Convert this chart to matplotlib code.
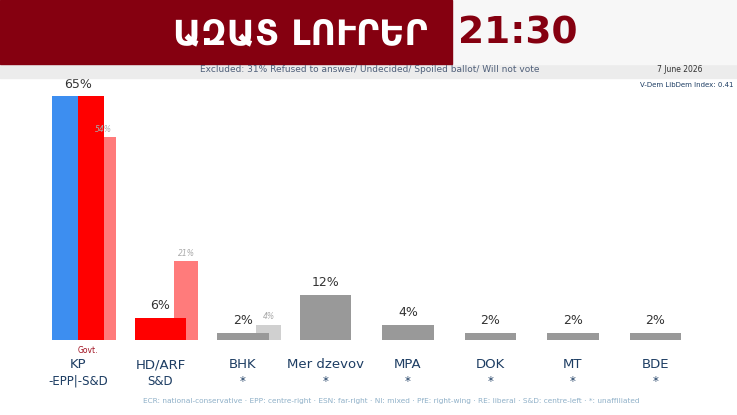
import matplotlib.pyplot as plt
from matplotlib.patches import Rectangle

parties = ["KP", "HD/ARF", "BHK", "Mer dzevov", "MPA", "DOK", "MT", "BDE"]
sublabels = ["-EPP|-S&D", "S&D", "*", "*", "*", "*", "*", "*"]
values = [65, 6, 2, 12, 4, 2, 2, 2]
previous = [54, 21, 4, None, None, None, None, None]
bar_colors = ["#ff0000", "#ff0000", "#999999", "#999999", "#999999", "#999999", "#999999", "#999999"]
prev_colors = ["#ff7b7b", "#ff7b7b", "#d0d0d0", None, None, None, None, None]

NAVY = "#1d3d63"
NARROW = ["Liberation Sans Narrow", "DejaVu Sans"]

fig = plt.figure(figsize=(7.37, 4.15), dpi=100)
ax = fig.add_axes([0, 0, 1, 1])
ax.set_xlim(-78 / 82.5, (737 - 78) / 82.5)
ax.set_ylim(-20, 340 / 3.75)
ax.axis("off")

w = 0.63
for i, (v, pv) in enumerate(zip(values, previous)):
    if pv is not None:
        ax.bar(i + 0.31, pv, width=0.3, color=prev_colors[i], zorder=1)
        ax.text(i + 0.31, pv + 1, f"{pv}%", ha="center", va="bottom", fontsize=5.5,
                color="#aaaaaa", style="italic", family=NARROW)
    if i == 0:
        ax.bar(i - w / 4, v, width=w / 2, color="#3d8ef0", zorder=2)
        ax.bar(i + w / 4, v, width=w / 2, color=bar_colors[i], zorder=2)
    else:
        ax.bar(i, v, width=w, color=bar_colors[i], zorder=2)
    ax.text(i, v + 1.5, f"{v}%", ha="center", va="bottom", fontsize=9,
            color="#333333", family=NARROW)
    ax.text(i, -4.8, parties[i], ha="center", va="top", fontsize=9.5,
            color=NAVY, family=NARROW)
    ax.text(i, -9.3, sublabels[i], ha="center", va="top", fontsize=8.5,
            color=NAVY, family=NARROW)

ax.text(0.12, -1.5, "Govt.", ha="center", va="top", fontsize=5.5, color="#a01020", family=NARROW)
ax.text(3.8, -16.3, "ECR: national-conservative · EPP: centre-right · ESN: far-right · NI: mixed · "
        "PfE: right-wing · RE: liberal · S&D: centre-left · *: unaffiliated",
        ha="center", va="center", fontsize=5.3, color="#8fb0c8", family=NARROW)

# header band
fig.patches.append(Rectangle((0, 1 - 78 / 415), 1, 14 / 415, transform=fig.transFigure,
                             color="#ececec", zorder=3))
fig.patches.append(Rectangle((452 / 737, 1 - 64 / 415), 1, 64 / 415, transform=fig.transFigure,
                             color="#f7f7f7", zorder=3))
fig.patches.append(Rectangle((0, 1 - 64 / 415), 452 / 737, 64 / 415, transform=fig.transFigure,
                             color="#850010", zorder=4))
fig.text(300 / 737, 1 - 34 / 415, "ԱԶԱՏ ԼՈՒՐԵՐ", ha="center", va="center", fontsize=25,
         color="white", fontweight="bold", family=["DejaVu Sans"], zorder=5)
fig.text(518 / 737, 1 - 34 / 415, "21:30", ha="center", va="center", fontsize=27,
         color="#850010", fontweight="bold", family=NARROW, zorder=5)
fig.text(370 / 737, 1 - 69 / 415, "Excluded: 31% Refused to answer/ Undecided/ Spoiled ballot/ Will not vote",
         ha="center", va="center", fontsize=6.5, color="#50607a", family=NARROW, zorder=5)
fig.text(680 / 737, 1 - 69 / 415, "7 June 2026", ha="center", va="center", fontsize=5.5,
         color="#333333", family=NARROW, zorder=5)
fig.text(734 / 737, 1 - 85 / 415, "V-Dem LibDem Index: 0.41", ha="right", va="center", fontsize=5,
         color="#1d3d63", family=NARROW, zorder=5)

fig.savefig("out.png", dpi=100)
